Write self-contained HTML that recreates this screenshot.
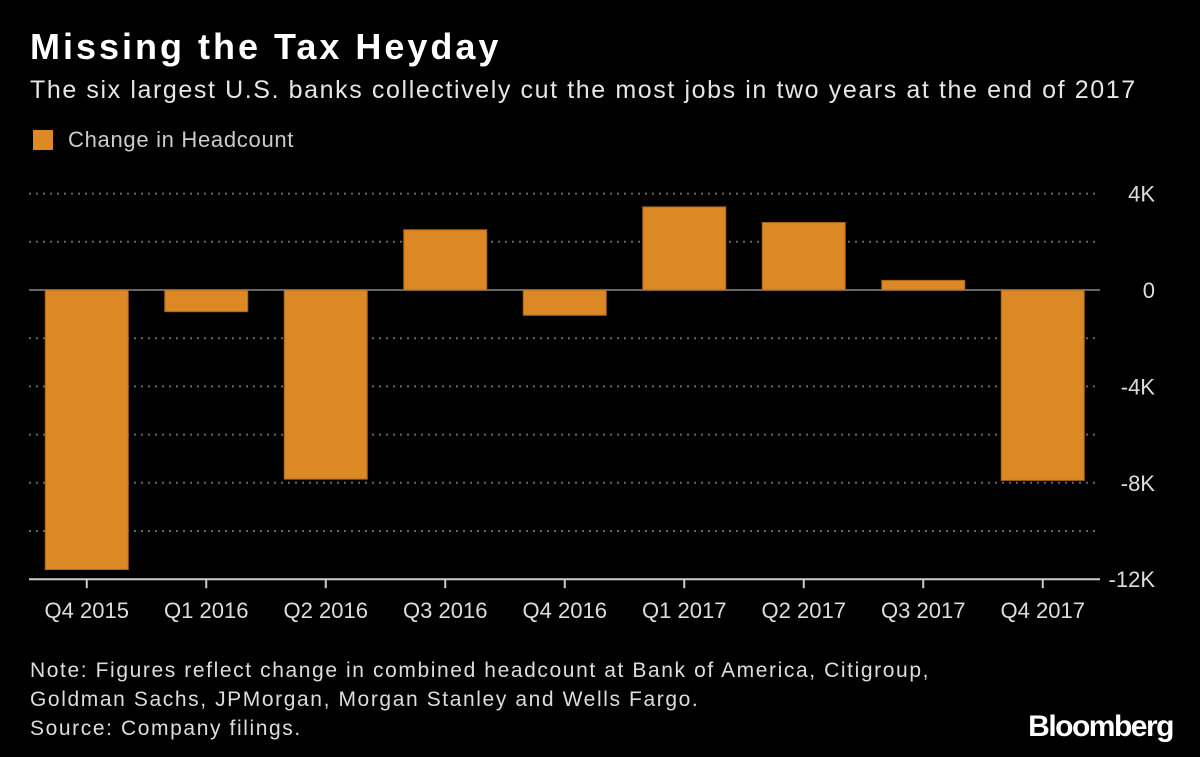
<!DOCTYPE html>
<html><head><meta charset="utf-8"><style>
body{margin:0;background:#000;width:1200px;height:757px;overflow:hidden;font-family:"Liberation Sans",sans-serif;color:#e6e6e6}
.t{position:absolute;left:30px;top:26px;font-size:36px;font-weight:bold;color:#fff;letter-spacing:3px}
.s{position:absolute;left:30px;top:76px;font-size:25px;color:#e6e6e6;letter-spacing:1.6px}
.l{position:absolute;left:33px;top:127px;font-size:22px;color:#ccc;letter-spacing:0.7px}
.l span{display:inline-block;width:20px;height:20px;background:#dc8824;vertical-align:-3px;margin-right:15px}
.n{position:absolute;left:30px;top:656px;font-size:21px;line-height:29px;color:#ddd;letter-spacing:1.6px}
.b{position:absolute;right:27px;top:710px;font-size:30px;font-weight:bold;color:#fff;letter-spacing:-1.5px}
svg{position:absolute;left:0;top:0}
</style></head><body>
<div class="t">Missing the Tax Heyday</div>
<div class="s">The six largest U.S. banks collectively cut the most jobs in two years at the end of 2017</div>
<div class="l"><span></span>Change in Headcount</div>
<svg id="c" width="1200" height="757"></svg>
<div class="n">Note: Figures reflect change in combined headcount at Bank of America, Citigroup,<br>Goldman Sachs, JPMorgan, Morgan Stanley and Wells Fargo.<br>Source: Company filings.</div>
<div class="b">Bloomberg</div>
<script>
const categories=["Q4 2015","Q1 2016","Q2 2016","Q3 2016","Q4 2016","Q1 2017","Q2 2017","Q3 2017","Q4 2017"];
const values=[-11.6,-0.9,-7.85,2.5,-1.05,3.45,2.8,0.4,-7.9];
const tickValues=[4,2,0,-2,-4,-6,-8,-10,-12];
const tickLabels={"4":"4K","0":"0","-4":"-4K","-8":"-8K","-12":"-12K"};
const svg=document.getElementById('c');const NS='http://www.w3.org/2000/svg';
const y=v=>290-v*24.1;
const x0=27,bw=119.5;
const xc=i=>x0+bw*(i+0.5);
function mk(t,a){const e=document.createElementNS(NS,t);for(const k in a)e.setAttribute(k,a[k]);svg.appendChild(e);return e;}
tickValues.forEach(v=>{
 if(v===-12)return;
 const g=mk('line',{x1:29,x2:1100,y1:y(v),y2:y(v),stroke:'#666','stroke-width':2,'stroke-dasharray':v===0?'':'2,5'});
 
 
});
tickValues.forEach(v=>{
 const lab=tickLabels[String(v)];if(lab===undefined)return;
 const t=mk('text',{x:1155,y:y(v)+8,'text-anchor':'end','font-size':22,fill:'#ddd','font-family':'Liberation Sans, sans-serif'});t.textContent=lab;
 
 
});
values.forEach((v,i)=>{
 const r=mk('rect',{x:xc(i)-41.5,width:83,y:Math.min(y(v),y(0)),height:Math.abs(y(v)-y(0)),fill:'#dc8824',stroke:'#a8651a','stroke-width':1});
 
 
});
const ax=mk('line',{x1:29,x2:1100,y1:y(-12),y2:y(-12),stroke:'#ccc','stroke-width':2});


categories.forEach((c,i)=>{
 const tk=mk('line',{x1:xc(i),x2:xc(i),y1:y(-12),y2:y(-12)+9,stroke:'#ccc','stroke-width':2});
 
 
 const t=mk('text',{x:xc(i),y:618,'text-anchor':'middle','font-size':22,fill:'#ddd','font-family':'Liberation Sans, sans-serif'});t.textContent=c;
 
 
});
</script>
</body></html>
